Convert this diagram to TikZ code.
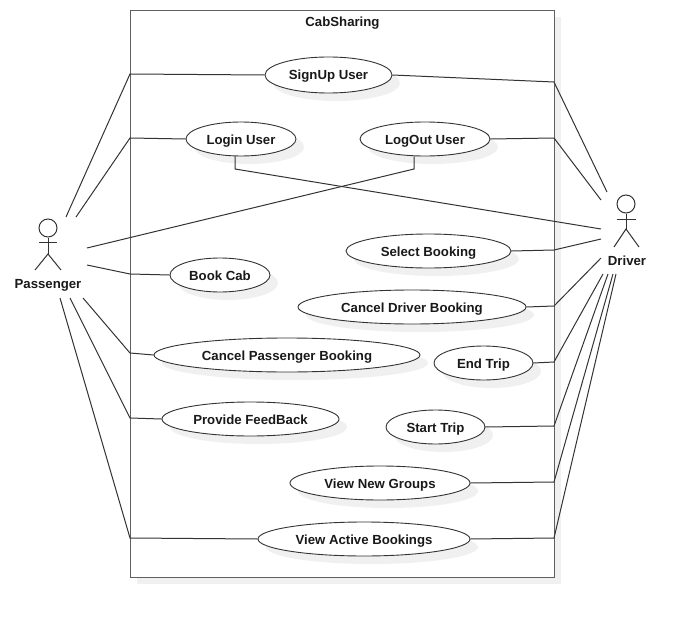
\documentclass[tikz,border=0pt]{standalone}
\usepackage{fontspec}
\setmainfont{Liberation Sans}
\usetikzlibrary{shapes.geometric,shadows}
\definecolor{softgrey}{HTML}{F0F0F0}
\definecolor{edgeink}{HTML}{333333}
\definecolor{boxink}{HTML}{5F5F5F}
\tikzset{
  usecase/.style={ellipse,draw=edgeink,line width=0.9pt,fill=white,inner sep=0pt,
    font=\fontsize{13.2}{15}\selectfont\bfseries,text=black!90,text depth=2pt,text height=12pt,
    general shadow={fill=softgrey,shadow xshift=8pt,shadow yshift=-8pt}},
  link/.style={draw=edgeink,line width=1pt,line join=miter},
  actorline/.style={draw=edgeink,line width=1pt},
  actorname/.style={font=\fontsize{13.2}{15}\selectfont\bfseries,text=black!90,inner sep=0pt}
}
\begin{document}
\begin{tikzpicture}[x=1pt,y=-1pt]
\useasboundingbox (0,0) rectangle (691,618);
% system boundary
\fill[softgrey] (137,17) rectangle (561,584);
\node[draw=boxink,line width=1.4pt,fill=white,minimum width=424pt,minimum height=567pt,inner sep=0pt,anchor=north west] (system) at (130,10) {};
\node[actorname] (title) at (342.5,23.5) {CabSharing};
% use cases
\node[usecase,minimum width=127pt,minimum height=36pt] (signup) at (328.5,75) {SignUp User};
\node[usecase,minimum width=110pt,minimum height=34pt] (login) at (241,139) {Login User};
\node[usecase,minimum width=130pt,minimum height=34pt] (logout) at (425,139) {LogOut User};
\node[usecase,minimum width=165pt,minimum height=34pt] (select) at (428.5,251) {Select Booking};
\node[usecase,minimum width=100pt,minimum height=34pt] (bookcab) at (220,275) {Book Cab};
\node[usecase,minimum width=228pt,minimum height=34pt] (canceldrv) at (412,307) {Cancel Driver Booking};
\node[usecase,minimum width=266pt,minimum height=34pt] (cancelpas) at (287,355) {Cancel Passenger Booking};
\node[usecase,minimum width=99pt,minimum height=34pt] (endtrip) at (483.5,363) {End Trip};
\node[usecase,minimum width=177pt,minimum height=34pt] (feedback) at (250.5,419) {Provide FeedBack};
\node[usecase,minimum width=99pt,minimum height=34pt] (starttrip) at (435.5,427) {Start Trip};
\node[usecase,minimum width=180pt,minimum height=34pt] (newgroups) at (380,483) {View New Groups};
\node[usecase,minimum width=212pt,minimum height=34pt] (active) at (364,539) {View Active Bookings};
% passenger
\node[circle,draw=edgeink,line width=1pt,minimum size=18pt,inner sep=0pt] (phead) at (48,228) {};
\coordinate (phip) at (48,254);
\draw[actorline] (phead.south) -- (phip);
\coordinate (parml) at (39,242); \coordinate (parmr) at (57,242);
\draw[actorline] (parml) -- (parmr);
\coordinate (plegl) at (35,270); \coordinate (plegr) at (61,270);
\draw[actorline] (plegl) -- (phip) -- (plegr);
\node[actorname] (passenger) at (48,285) {Passenger};
% driver
\node[circle,draw=edgeink,line width=1pt,minimum size=18pt,inner sep=0pt] (dhead) at (626,204) {};
\coordinate (dhip) at (626,229);
\draw[actorline] (dhead.south) -- (dhip);
\coordinate (darml) at (617,219); \coordinate (darmr) at (636,219);
\draw[actorline] (darml) -- (darmr);
\coordinate (dlegl) at (614,247); \coordinate (dlegr) at (639,247);
\draw[actorline] (dlegl) -- (dhip) -- (dlegr);
\node[actorname] (driver) at (627,260.5) {Driver};
% passenger connector ends
\coordinate (pa) at (66,217); \coordinate (pb) at (76,217);
\coordinate (pc) at (87,248); \coordinate (pd) at (87,265);
\coordinate (pe) at (83,298); \coordinate (pf) at (70,298);
\coordinate (pg) at (60,298);
% driver connector ends
\coordinate (da) at (607,192); \coordinate (db) at (601,200);
\coordinate (dc) at (601,229); \coordinate (dd) at (601,239);
\coordinate (de) at (601,258); \coordinate (df) at (603,274);
\coordinate (dg) at (608,274); \coordinate (dh) at (613,274);
\coordinate (di) at (616,274);
% bends on the boundary
\coordinate (bsignupl) at (130,74); \coordinate (bloginl) at (130,138);
\coordinate (bbookl) at (130,274); \coordinate (bcancell) at (130,353);
\coordinate (bfeedl) at (130,418); \coordinate (bactivel) at (130,538);
% passenger connectors
\draw[link] (pa) -- (bsignupl) -- (signup.west);
\draw[link] (pb) -- (bloginl) -- (login.west);
\draw[link] (pc) -- (414,169) -- (logout.south -| 414,0);
\draw[link] (pd) -- (bbookl) -- (bookcab.west);
\draw[link] (pe) -- (bcancell) -- (cancelpas.west);
\draw[link] (pf) -- (bfeedl) -- (feedback.west);
\draw[link] (pg) -- (bactivel) -- (active.west);
% driver connectors
\draw[link] (signup.east) -- (554,82) -- (da);
\draw[link] (logout.east) -- (554,138) -- (db);
\draw[link] (login.south -| 235,0) -- (235,169) -- (dc);
\draw[link] (select.east) -- (554,250) -- (dd);
\draw[link] (canceldrv.east) -- (554,306) -- (de);
\draw[link] (endtrip.east) -- (554,362) -- (df);
\draw[link] (starttrip.east) -- (554,426) -- (dg);
\draw[link] (newgroups.east) -- (554,482) -- (dh);
\draw[link] (active.east) -- (554,538) -- (di);
\end{tikzpicture}
\end{document}
